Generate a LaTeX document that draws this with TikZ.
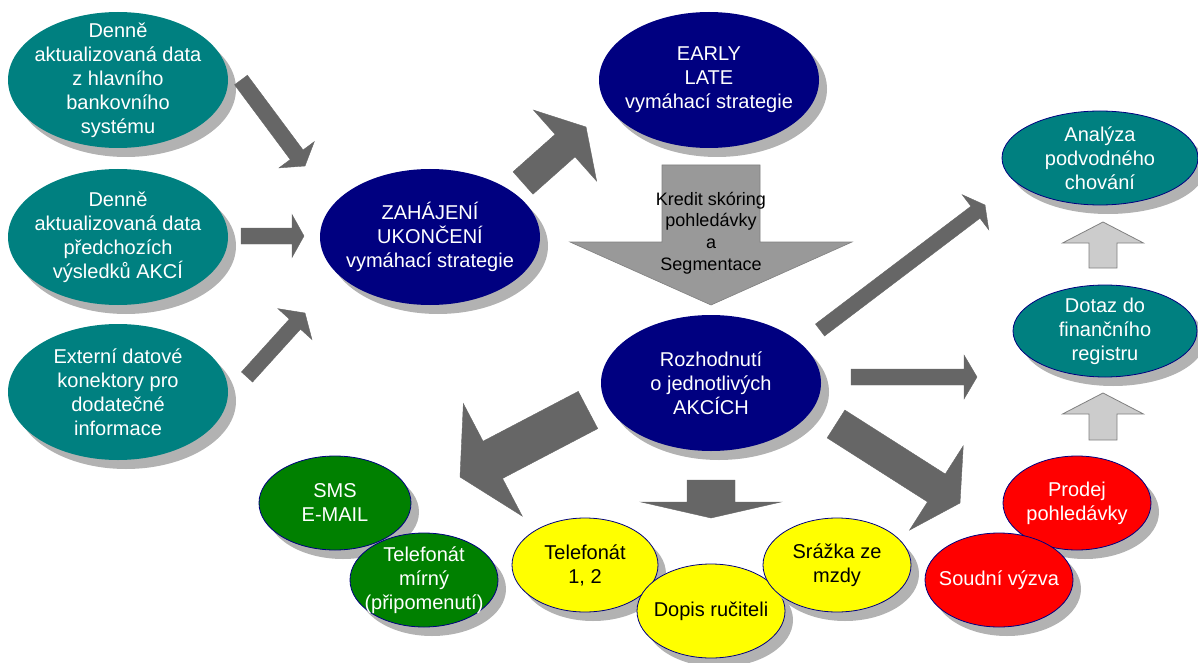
\documentclass[tikz,border=0pt]{standalone}
\usepackage{fontspec}
\setmainfont{Liberation Sans}
\usetikzlibrary{shapes.geometric,calc,shadows}
\definecolor{tealc}{RGB}{0,128,128}
\definecolor{navyc}{RGB}{0,0,128}
\definecolor{greenc}{RGB}{0,128,0}
\definecolor{yellowc}{RGB}{255,255,0}
\definecolor{redc}{RGB}{255,0,0}
\definecolor{shgray}{RGB}{178,178,178}
\definecolor{arrgray}{RGB}{102,102,102}
\definecolor{midgray}{RGB}{153,153,153}
\definecolor{lightgray}{RGB}{204,204,204}
\definecolor{edgegray}{RGB}{128,128,128}
\newcommand{\blockarrow}[6]{%
  \coordinate (bah) at ($(#3)!#6!(#2)$);
  \filldraw[#1] ($(#2)!#4/2!90:(#3)$) -- ($(bah)!#4/2!-90:(#2)$) -- ($(bah)!#5/2!-90:(#2)$) -- (#3)
    -- ($(bah)!#5/2!90:(#2)$) -- ($(bah)!#4/2!90:(#2)$) -- ($(#2)!#4/2!-90:(#3)$) -- cycle;}
\begin{document}
\begin{tikzpicture}[x=1pt,y=-1pt,
  bub/.style={ellipse, inner sep=0pt,
    general shadow={fill=shgray, shadow xshift=8pt, shadow yshift=-9pt}},
  bigbub/.style={bub, minimum width=220pt, minimum height=136pt},
  smallbub/.style={bub, minimum width=148pt, minimum height=94pt, draw=navyc, line width=0.8pt},
  wtext/.style={align=center, inner sep=0pt, text=white, font=\fontsize{20}{24}\selectfont},
  btext/.style={align=center, inner sep=0pt, text=black, font=\fontsize{20}{24}\selectfont},
  ktext/.style={align=center, inner sep=0pt, text=black, font=\fontsize{18}{21.7}\selectfont},
  darkarrow/.style={fill=arrgray, draw=arrgray, line width=0.4pt},
  lightarrow/.style={fill=lightgray, draw=edgegray, line width=0.8pt}]
\useasboundingbox (0,0) rectangle (1198,663);

% left inputs
\node[bigbub, fill=tealc] (in1) at (118,80) {};
\node[wtext] (in1t) at (in1.center) {Denně\\aktualizovaná data\\z hlavního\\bankovního\\systému};
\node[bigbub, fill=tealc] (in2) at (118,237) {};
\node[wtext] (in2t) at (in2.center) {Denně\\aktualizovaná data\\předchozích\\výsledků AKCÍ};
\node[bigbub, fill=tealc] (in3) at (118,392) {};
\node[wtext] (in3t) at (in3.center) {Externí datové\\konektory pro\\dodatečné\\informace};

% strategy
\node[bigbub, fill=navyc] (zah) at (430,237) {};
\node[wtext] (zaht) at (zah.center) {ZAHÁJENÍ\\UKONČENÍ\\vymáhací strategie};
\node[bigbub, fill=navyc] (early) at (709,80) {};
\node[wtext] (earlyt) at (early.center) {EARLY\\LATE\\vymáhací strategie};
\node[bigbub, fill=navyc] (roz) at (711,383) {};
\node[wtext] (rozt) at (roz.center) {Rozhodnutí\\o jednotlivých\\AKCÍCH};

% right
\node[bub, fill=tealc, draw=navyc, line width=0.8pt, minimum width=196pt, minimum height=94pt] (anal) at (1100,158) {};
\node[wtext] (analt) at (anal.center) {Analýza\\podvodného\\chování};
\node[bub, fill=tealc, draw=navyc, line width=0.8pt, minimum width=184pt, minimum height=92pt] (dotaz) at (1105,331) {};
\node[wtext] (dotazt) at (dotaz.center) {Dotaz do\\finančního\\registru};

% actions
\node[smallbub, fill=greenc, minimum width=152pt] (sms) at (335,503) {};
\node[wtext] (smst) at (sms.center) {SMS\\E-MAIL};
\node[smallbub, fill=greenc] (telm) at (424,580) {};
\node[wtext] (telmt) at (telm.center) {Telefonát\\mírný\\(připomenutí)};
\node[smallbub, fill=yellowc, minimum width=146pt] (tel) at (585,565) {};
\node[btext] (telt) at (tel.center) {Telefonát\\1, 2};
\node[smallbub, fill=yellowc] (dopis) at (711,611) {};
\node[btext] (dopist) at (dopis.center) {Dopis ručiteli};
\node[smallbub, fill=yellowc] (srazka) at (837,565) {};
\node[btext] (srazkat) at (srazka.center) {Srážka ze\\mzdy};
\node[smallbub, fill=redc] (prodej) at (1077,503) {};
\node[wtext] (prodejt) at (prodej.center) {Prodej\\pohledávky};
\node[smallbub, fill=redc] (soud) at (999,580) {};
\node[wtext] (soudt) at (soud.center) {Soudní výzva};

% big scoring arrow
\filldraw[fill=midgray, draw=edgegray, line width=0.6pt]
  (662,165) -- (760,165) -- (760,242) -- (852,242) -- (711,305) -- (570,242) -- (662,242) -- cycle;
\node[ktext] (kredit) at (711,233) {Kredit skóring\\pohledávky\\a\\Segmentace};

% arrow coordinates
\coordinate (a1s) at (241,80);  \coordinate (a1e) at (305,166);
\coordinate (a2s) at (241,236); \coordinate (a2e) at (304,236);
\coordinate (a3s) at (247,377); \coordinate (a3e) at (305,313);
\coordinate (a4s) at (523,183); \coordinate (a4e) at (586,127);
\coordinate (a5s) at (820,330); \coordinate (a5e) at (985,205);
\coordinate (a6s) at (851,377); \coordinate (a6e) at (977,377);
\coordinate (a7s) at (836,424); \coordinate (a7e) at (960,503);
\coordinate (a8s) at (588,410); \coordinate (a8e) at (460,477);
\coordinate (a9s) at (711,480); \coordinate (a9e) at (711,518);
\coordinate (u1s) at (1103,268); \coordinate (u1e) at (1103,222);
\coordinate (u2s) at (1103,440); \coordinate (u2e) at (1103,393);

\blockarrow{darkarrow}{a1s}{a1e}{16pt}{44pt}{14pt}
\blockarrow{darkarrow}{a2s}{a2e}{16pt}{43pt}{12pt}
\blockarrow{darkarrow}{a3s}{a3e}{15pt}{46pt}{15pt}
\blockarrow{darkarrow}{a4s}{a4e}{30pt}{95pt}{28pt}
\blockarrow{darkarrow}{a5s}{a5e}{15pt}{44pt}{12pt}
\blockarrow{darkarrow}{a6s}{a6e}{16pt}{44pt}{13pt}
\blockarrow{darkarrow}{a7s}{a7e}{33pt}{100pt}{28pt}
\blockarrow{darkarrow}{a8s}{a8e}{42pt}{127pt}{37pt}
\blockarrow{darkarrow}{a9s}{a9e}{48pt}{140pt}{16pt}
\blockarrow{lightarrow}{u1s}{u1e}{28pt}{81pt}{21pt}
\blockarrow{lightarrow}{u2s}{u2e}{28pt}{81pt}{21pt}
\end{tikzpicture}
\end{document}
